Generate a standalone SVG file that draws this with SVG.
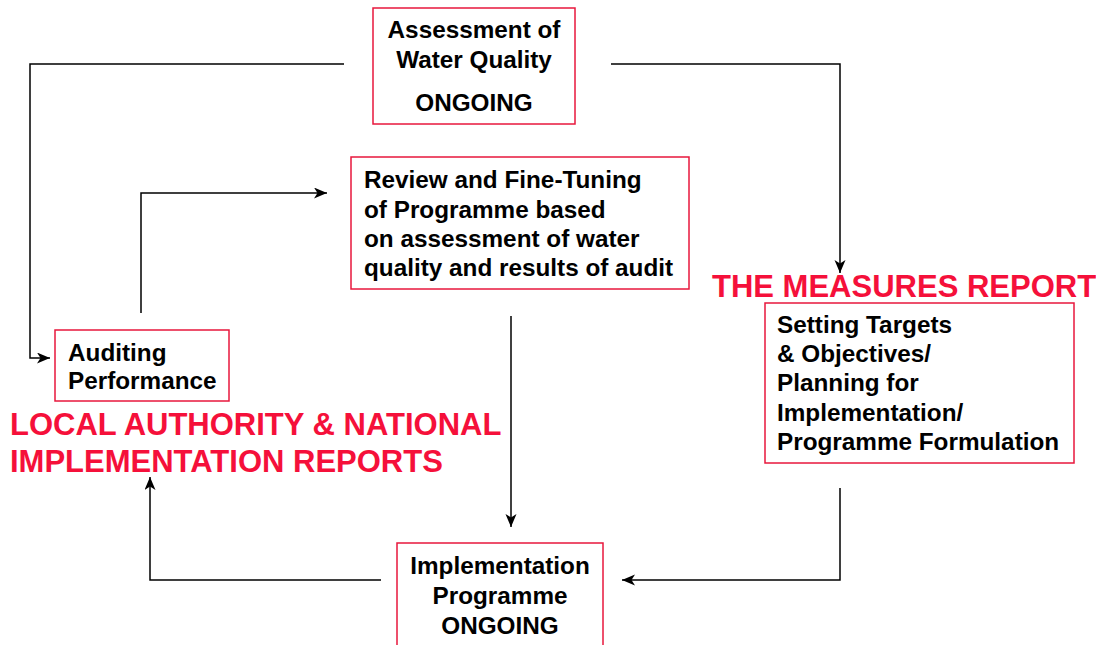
<svg xmlns="http://www.w3.org/2000/svg" width="1096" height="645" viewBox="0 0 1096 645">
<style>
.box{fill:#fff;stroke:#e8173c;stroke-width:1.5}
.t{font-family:"Liberation Sans",Arial,sans-serif;font-weight:bold;font-size:24.3px;fill:#000}
.c{text-anchor:middle}
.r{font-family:"Liberation Sans",Arial,sans-serif;font-weight:bold;font-size:31px;fill:#f5103a}
.ln{fill:none;stroke:#000;stroke-width:1.5}
</style>
<defs>
<marker id="ah" markerWidth="16" markerHeight="12" refX="13" refY="5.5" orient="auto" markerUnits="userSpaceOnUse">
<path d="M0,0 L13,5.5 L0,11 L3.5,5.5 z" fill="#000"/>
</marker>
</defs>
<g id="connectors">
<path class="ln" d="M344,64 H30 V358 H50" marker-end="url(#ah)"/>
<path class="ln" d="M611,64 H840 V273" marker-end="url(#ah)"/>
<path class="ln" d="M141,313 V193 H327" marker-end="url(#ah)"/>
<path class="ln" d="M511,316 V527" marker-end="url(#ah)"/>
<path class="ln" d="M840,488 V580 H622" marker-end="url(#ah)"/>
<path class="ln" d="M381,580 H150 V477" marker-end="url(#ah)"/>
</g>
<g id="assessment">
<rect class="box" x="373" y="8" width="202" height="116"/>
<text class="t c" x="474" y="38">Assessment of</text>
<text class="t c" x="474" y="68">Water Quality</text>
<text class="t c" x="474" y="111">ONGOING</text>
</g>
<g id="review">
<rect class="box" x="351" y="157" width="338" height="132"/>
<text class="t" x="364" y="188">Review and Fine-Tuning</text>
<text class="t" x="364" y="218">of Programme based</text>
<text class="t" x="364" y="247">on assessment of water</text>
<text class="t" x="364" y="276">quality and results of audit</text>
</g>
<g id="auditing">
<rect class="box" x="55" y="330" width="174" height="71"/>
<text class="t" x="68" y="361">Auditing</text>
<text class="t" x="68" y="389">Performance</text>
</g>
<g id="setting">
<rect class="box" x="765" y="303" width="309" height="160"/>
<text class="t" x="777" y="333">Setting Targets</text>
<text class="t" x="777" y="362">&amp; Objectives/</text>
<text class="t" x="777" y="391">Planning for</text>
<text class="t" x="777" y="421">Implementation/</text>
<text class="t" x="777" y="450">Programme Formulation</text>
</g>
<g id="implementation">
<rect class="box" x="397" y="543" width="206" height="110"/>
<text class="t c" x="500" y="574">Implementation</text>
<text class="t c" x="500" y="604">Programme</text>
<text class="t c" x="500" y="634">ONGOING</text>
</g>
<g id="labels">
<text class="r" x="712" y="297">THE MEASURES REPORT</text>
<text class="r" x="10" y="435">LOCAL AUTHORITY &amp; NATIONAL</text>
<text class="r" x="10" y="472">IMPLEMENTATION REPORTS</text>
</g>
</svg>
